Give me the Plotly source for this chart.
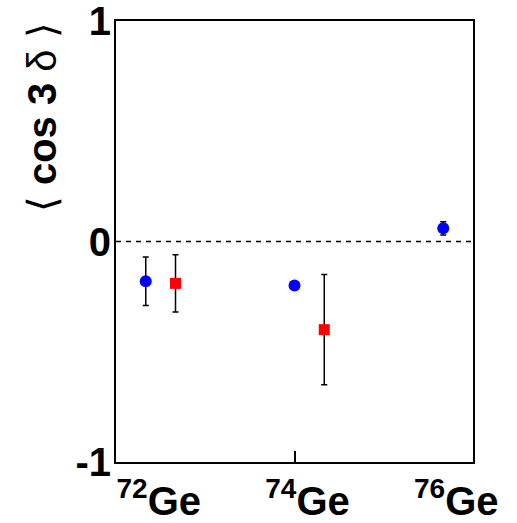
import plotly.graph_objects as go

# Nuclei on the x axis (mass number) and their tick labels
isotopes = [72, 74, 76]
isotope_labels = ["<sup>72</sup>Ge", "<sup>74</sup>Ge", "<sup>76</sup>Ge"]

# Blue circles: <cos 3delta> per isotope
blue_x = [72, 74, 76]
blue_y = [-0.18, -0.20, 0.06]
blue_err = [0.11, 0.01, 0.03]

# Red squares: second set, drawn slightly to the right of each isotope
red_x = [72.4, 74.4]
red_y = [-0.19, -0.40]
red_err = [0.13, 0.25]

x_range = [71.6, 76.4]
y_range = [-1.0005, 1.0005]
y_ticks = [-1, 0, 1]
y_tick_labels = ["-1", "0", "1"]

FONT = "Liberation Sans, Arial, Helvetica, sans-serif"

fig = go.Figure()

fig.add_trace(go.Scatter(
    x=blue_x, y=blue_y, mode="markers",
    marker=dict(symbol="circle", size=12, color="#0000ff"),
    error_y=dict(type="data", array=blue_err, visible=True,
                 color="black", thickness=1.5, width=3),
    showlegend=False,
))
fig.add_trace(go.Scatter(
    x=red_x, y=red_y, mode="markers",
    marker=dict(symbol="square", size=11, color="#ff0000"),
    error_y=dict(type="data", array=red_err, visible=True,
                 color="black", thickness=1.5, width=3),
    showlegend=False,
))
# invisible trace that carries the second x axis (inner tick at 74)
fig.add_trace(go.Scatter(x=[74], y=[0], xaxis="x2", mode="markers",
                         marker=dict(opacity=0), showlegend=False,
                         hoverinfo="skip"))

# dashed reference line at zero
fig.add_shape(type="line", xref="paper", x0=0, x1=1, yref="y", y0=0, y1=0,
              line=dict(color="black", width=1.5, dash="5px,5px"), layer="below")

fig.update_layout(
    width=517, height=523,
    margin=dict(l=116, r=44, t=21, b=61, autoexpand=False),
    plot_bgcolor="white", paper_bgcolor="white",
    font=dict(family=FONT, color="black"),
    xaxis=dict(
        range=x_range, tickvals=isotopes, ticktext=isotope_labels,
        ticks="", ticklen=0, showgrid=False, zeroline=False, automargin=False,
        showline=True, linecolor="black", linewidth=2, mirror=True,
        tickfont=dict(size=40, family=FONT, weight="bold"),
        ticklabelshift=13, ticklabelstandoff=3,
    ),
    xaxis2=dict(
        range=x_range, overlaying="x", side="bottom", tickvals=[74],
        ticks="inside", ticklen=11, tickwidth=1.5, tickcolor="black",
        showticklabels=False, showgrid=False, zeroline=False, showline=False,
        automargin=False,
    ),
    yaxis=dict(
        range=y_range, tickvals=y_ticks, ticktext=y_tick_labels,
        ticks="", ticklen=0, showgrid=False, zeroline=False, automargin=False,
        showline=True, linecolor="black", linewidth=2, mirror=True,
        tickfont=dict(size=40, family=FONT, weight="bold"),
        ticklabelstandoff=-5, ticklabeloverflow="allow",
    ),
)

fig.add_annotation(
    xref="paper", yref="paper", x=-0.207, y=0.782,
    xanchor="center", yanchor="middle", textangle=-90, showarrow=False,
    text="\u27e8 <b>cos 3</b> \u03b4 \u27e9",
    font=dict(size=40, family=FONT, color="black"),
)

fig.write_html("out.html")
